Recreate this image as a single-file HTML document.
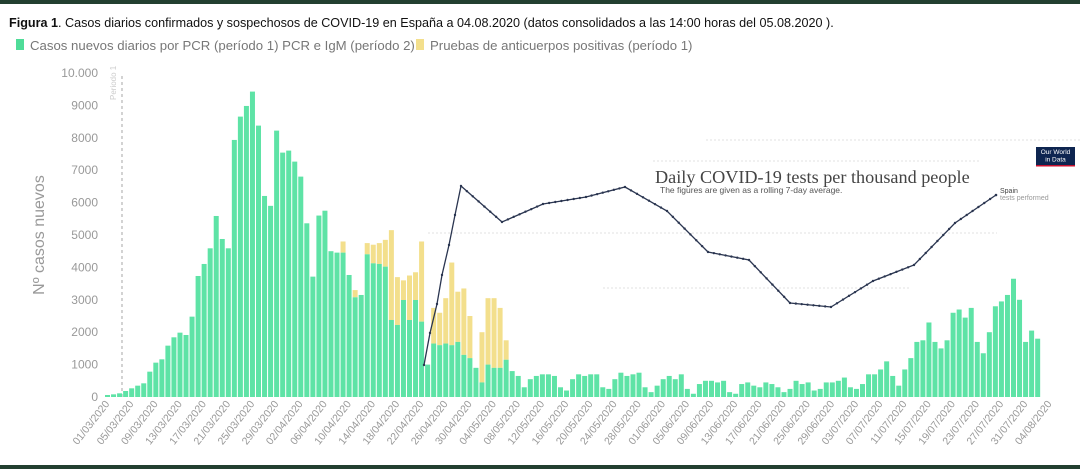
<!DOCTYPE html>
<html><head><meta charset="utf-8">
<style>
html,body{margin:0;padding:0;background:#fff;}
#w{position:relative;width:1080px;height:469px;overflow:hidden;font-family:"Liberation Sans",sans-serif;}
</style></head>
<body><div id="w">
<svg id="s" width="1080" height="469" xmlns="http://www.w3.org/2000/svg" style="position:absolute;left:0;top:0">
<rect x="0" y="0" width="1080" height="4" fill="#223f30"/>
<rect x="0" y="465" width="1080" height="4" fill="#223f30"/>
<text x="9" y="27" font-size="12.6" fill="#111"><tspan font-weight="bold">Figura 1</tspan>. Casos diarios confirmados y sospechosos de COVID-19 en España a 04.08.2020 (datos consolidados a las 14:00 horas del 05.08.2020 ).</text>
<rect x="16" y="39" width="8" height="11" fill="#4fdc98"/>
<text x="30" y="50" font-size="13.2" fill="#777">Casos nuevos diarios por PCR (período 1) PCR e IgM (período 2)</text>
<rect x="416" y="39" width="8" height="11" fill="#f3df8c"/>
<text x="430" y="50" font-size="13.2" fill="#777">Pruebas de anticuerpos positivas (período 1)</text>
<text transform="translate(44,235) rotate(-90)" text-anchor="middle" font-size="16" fill="#999">Nº casos nuevos</text>
<g id="grid"></g>
<g id="ylab" font-size="12" fill="#999" text-anchor="end"></g>
<line x1="122" y1="76" x2="122" y2="397" stroke="#bbb" stroke-width="1.3" stroke-dasharray="3,3"/>
<text transform="translate(116,100) rotate(-90)" font-size="8" fill="#ccc">Periodo 1</text>
<g id="bars"></g>
<g id="xlab" font-size="10.5" fill="#999"></g>
<g id="line"></g>
<text x="655" y="183" font-family="Liberation Serif,serif" font-size="18.2" fill="#444">Daily COVID-19 tests per thousand people</text>
<text x="660" y="193" font-size="8.5" fill="#555">The figures are given as a rolling 7-day average.</text>
<text x="1000" y="193" font-size="7" fill="#444">Spain</text>
<text x="1000" y="200" font-size="7" fill="#999">tests performed</text>
<rect x="1036" y="147" width="39" height="18" fill="#0e2550"/>
<rect x="1036" y="165" width="39" height="1.5" fill="#c8102e"/>
<text x="1055.5" y="154" font-size="6.5" fill="#fff" text-anchor="middle">Our World</text>
<text x="1055.5" y="161.5" font-size="6.5" fill="#fff" text-anchor="middle">in Data</text>
</svg>
</div>
<script>
var NS="http://www.w3.org/2000/svg";
function el(t,a,p){var e=document.createElementNS(NS,t);for(var k in a)e.setAttribute(k,a[k]);document.getElementById(p).appendChild(e);return e;}
var y0=397,sc=0.0324;
function Y(v){return y0-v*sc;}
var yl=["0","1000","2000","3000","4000","5000","6000","7000","8000","9000","10.000"];
for(var i=0;i<=10;i++){var t=el("text",{x:98,y:Y(i*1000)+4},"ylab");t.textContent=yl[i];}
[[706,1080,140],[653,981,161],[428,997,233],[603,910,288]].forEach(function(g){el("line",{x1:g[0],x2:g[1],y1:g[2],y2:g[2],stroke:"#e2e2e2","stroke-width":1,"stroke-dasharray":"2,2"},"grid");});
var g=[62,82,113,185,268,350,422,782,1060,1163,1585,1842,1986,1914,2480,3735,4106,4589,5587,4877,4589,7934,8654,8983,9426,8376,6205,5900,8222,7543,7605,7265,6802,5361,3715,5600,5750,4500,4456,4456,3766,3077,3149,4404,4126,4106,4023,2377,2223,2994,2377,2994,2326,
1000,1650,1600,1650,1600,1700,1300,1200,900,450,1000,900,900,1150,800,650,300,550,650,700,700,650,300,200,550,700,650,700,700,300,250,550,750,650,700,750,300,150,350,550,650,550,700,250,100,400,500,500,450,500,150,100,400,450,350,300,450,400,300,150,250,500,400,450,200,250,450,450,500,600,300,250,400,700,700,850,1100,650,350,850,1200,1700,1750,2300,1700,1500,1750,2600,2700,2450,2750,1700,1350,2000,2800,2950,3150,3650,3000,1700,2050,1800];
var yt={39:4800,41:3300,43:4750,44:4700,45:4750,46:4850,47:5150,48:3700,49:3600,50:3750,51:3850,52:4800,54:2750,55:2600,56:3050,57:4150,58:3250,59:3350,60:2500,61:650,62:2000,63:3050,64:3050,65:2750,66:1750,67:700};
var p=6.04,x0=105;
for(var i=0;i<g.length;i++){var x=x0+i*p;
 if(yt[i]&&yt[i]>g[i])el("rect",{x:x,y:Y(yt[i]),width:5,height:(yt[i]-g[i])*sc,fill:"#f3df8c"},"bars");
 el("rect",{x:x,y:Y(g[i]),width:5,height:g[i]*sc,fill:"#5ee3a6"},"bars");}
var labs=["01/03","05/03","09/03","13/03","17/03","21/03","25/03","29/03","02/04","06/04","10/04","14/04","18/04","22/04","26/04","30/04","04/05","08/05","12/05","16/05","20/05","24/05","28/05","01/06","05/06","09/06","13/06","17/06","21/06","25/06","29/06","03/07","07/07","11/07","15/07","19/07","23/07","27/07","31/07","04/08"];
for(var i=0;i<labs.length;i++){var x=x0+i*4*p+5;var t=el("text",{transform:"translate("+x+",404) rotate(-52)","text-anchor":"end"},"xlab");t.textContent=labs[i]+"/2020";}
var pts=[[424,365],[430,333],[437,304],[442,275],[449,245],[455,215],[461,186],[502,222],[543,204],[586,197],[625,187],[667,211],[708,252],[749,260],[790,303],[831,307],[873,281],[914,265],[955,223],[996,195]];
el("polyline",{points:pts.map(function(a){return a.join(",")}).join(" "),fill:"none",stroke:"#2a3550","stroke-width":1.3},"line");
for(var i=0;i<pts.length-1;i++){var a=pts[i],b=pts[i+1],n=Math.max(1,Math.round((b[0]-a[0])/6));for(var k=0;k<n;k++){el("circle",{cx:a[0]+(b[0]-a[0])*k/n,cy:a[1]+(b[1]-a[1])*k/n,r:1.2,fill:"#2a3550"},"line");}}
el("circle",{cx:996,cy:195,r:1.3,fill:"#2a3550"},"line");
</script>
</body></html>
